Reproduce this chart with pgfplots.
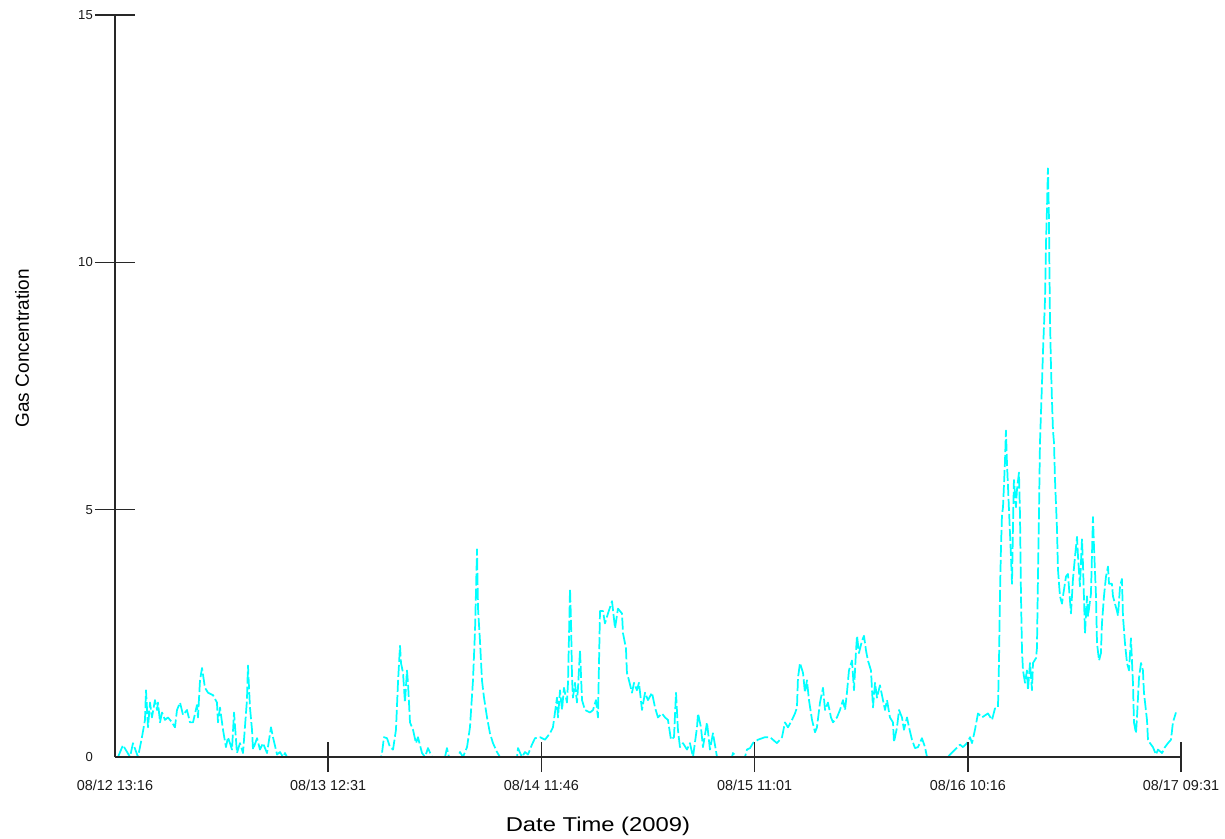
\documentclass[border=0pt]{standalone}
\usepackage{fontspec}
\setmainfont{Liberation Sans}
\usepackage{graphicx}
\usepackage{pgfplots}
\usepackage{pgfplotstable}
\pgfplotsset{compat=1.18}
\definecolor{aqua}{RGB}{0,255,255}
\definecolor{axisgray}{RGB}{40,40,40}
\pgfplotstableread{
h c
0.33 0
0.87 0.24
1.64 0
1.96 0.28
2.51 0
2.94 0.4
3.27 0.75
3.38 1.35
3.60 0.6
3.82 1.1
4.03 0.8
4.36 1.15
4.58 0.95
4.69 1.1
4.91 0.7
5.13 0.9
5.45 0.75
5.78 0.8
6.22 0.7
6.54 0.6
6.76 0.95
7.09 1.1
7.42 0.85
7.85 0.95
8.18 0.7
8.51 0.7
8.94 1.05
9.05 0.8
9.27 1.55
9.49 1.8
9.81 1.4
10.14 1.3
10.69 1.25
11.12 1.1
11.23 0.7
11.45 1.0
11.78 0.55
12.10 0.2
12.32 0.4
12.76 0.15
12.98 0.9
13.30 0.08
13.63 0.28
13.96 0.08
14.39 1.15
14.50 1.85
14.72 1.0
14.94 0.55
15.05 0.15
15.49 0.38
15.81 0.15
16.14 0.28
16.58 0.08
17.01 0.6
17.23 0.4
17.67 0.05
17.99 0.1
18.32 0
18.54 0.08
18.76 0
29.01 0
29.12 0.08
29.33 0.4
29.66 0.38
29.99 0.2
30.32 0.15
30.64 0.55
30.86 1.5
31.08 2.25
31.19 1.9
31.41 1.7
31.62 1.1
31.84 1.75
31.95 1.5
32.17 0.7
32.50 0.55
32.82 0.28
33.04 0.4
33.48 0.08
33.81 0
34.13 0.18
34.57 0
35.99 0
36.20 0.18
36.42 0
37.40 0
37.62 0.1
37.95 0
38.39 0.2
38.71 0.6
39.04 1.55
39.26 2.55
39.48 4.2
39.59 3.0
39.80 2.35
40.02 1.55
40.24 1.2
40.57 0.8
40.89 0.48
41.22 0.28
41.66 0.1
41.98 0
43.84 0
43.95 0.18
44.38 0
44.71 0.1
45.04 0.05
45.47 0.25
45.80 0.38
46.35 0.4
46.89 0.35
47.44 0.48
47.76 0.6
48.20 1.2
48.31 0.8
48.53 1.35
48.75 0.95
48.96 1.4
49.29 1.1
49.40 1.5
49.62 3.4
49.73 2.75
49.84 1.6
49.94 1.2
50.16 1.5
50.38 1.1
50.49 1.4
50.71 2.15
50.93 1.15
51.25 0.95
51.80 0.9
52.13 0.95
52.45 1.15
52.67 0.8
52.89 2.95
53.22 2.95
53.43 2.7
53.76 2.9
54.20 3.15
54.53 2.6
54.85 3.0
55.29 2.9
55.40 2.5
55.72 2.2
55.83 1.7
56.05 1.55
56.38 1.3
56.60 1.5
56.92 1.35
57.14 1.5
57.47 0.95
57.80 1.3
58.12 1.15
58.56 1.3
58.89 1.0
59.21 0.8
59.65 0.88
59.98 0.8
60.30 0.75
60.63 0.35
60.96 0.4
61.18 1.3
61.39 0.55
61.61 0.2
61.94 0.28
62.38 0.15
62.70 0.28
63.03 0
63.47 0.6
63.58 0.88
63.90 0.6
64.12 0.2
64.56 0.7
64.88 0.15
65.21 0.48
65.65 0
67.28 0
67.39 0.08
67.83 0
68.70 0
68.92 0.15
69.25 0.18
69.57 0.28
70.12 0.35
70.88 0.4
71.43 0.4
72.19 0.28
72.74 0.4
73.06 0.7
73.39 0.6
73.83 0.75
74.15 0.88
74.37 1.0
74.48 1.6
74.70 1.9
75.03 1.7
75.24 1.3
75.46 1.55
75.68 1.15
76.01 0.75
76.34 0.5
76.55 0.6
76.88 1.1
77.21 1.4
77.43 0.95
77.75 1.1
78.08 0.8
78.30 0.7
78.73 0.8
79.06 0.95
79.39 1.15
79.61 0.95
79.82 1.3
80.04 1.75
80.37 1.95
80.59 1.35
80.81 2.15
80.92 2.45
81.13 2.1
81.46 2.35
81.68 2.45
81.90 2.15
82.11 1.95
82.44 1.75
82.66 1.0
82.88 1.5
83.10 1.2
83.42 1.45
83.75 1.15
83.97 0.95
84.19 1.15
84.51 0.8
84.84 0.7
84.95 0.3
85.28 0.6
85.50 0.95
85.82 0.8
86.04 0.55
86.37 0.8
86.59 0.6
86.91 0.35
87.24 0.18
87.57 0.2
88.00 0.38
88.33 0.2
88.55 0
90.84 0
91.06 0.05
91.60 0.15
92.15 0.25
92.47 0.2
92.91 0.28
93.24 0.4
93.46 0.28
93.78 0.55
94.11 0.88
94.55 0.8
95.20 0.88
95.64 0.75
95.96 0.98
96.29 1.0
96.40 1.9
96.51 3.3
96.62 4.25
96.73 4.9
96.84 5.05
97.05 5.95
97.16 6.6
97.27 5.95
97.49 5.0
97.71 4.05
97.82 3.5
97.93 4.7
98.03 5.6
98.25 5.05
98.36 5.4
98.58 5.75
98.69 4.9
98.80 3.25
98.91 2.15
99.02 1.75
99.24 1.5
99.45 1.75
99.56 1.35
99.78 1.9
100.00 1.35
100.11 1.9
100.44 2.0
100.54 2.2
100.65 3.6
100.76 4.9
100.87 6.35
101.09 7.55
101.20 8.2
101.42 9.25
101.53 10.4
101.63 11.05
101.74 11.9
101.85 10.9
101.90 9.9
101.96 8.9
102.07 7.9
102.18 7.2
102.29 6.6
102.40 6.35
102.51 5.6
102.73 4.6
102.83 3.8
103.05 3.25
103.27 3.1
103.38 3.25
103.71 3.65
103.92 3.7
104.25 2.9
104.47 3.6
104.69 4.05
104.91 4.45
105.02 4.05
105.23 3.45
105.45 4.4
105.56 3.9
105.78 2.5
106.00 3.25
106.11 2.85
106.43 3.3
106.65 4.85
106.76 4.25
106.98 3.25
107.09 2.3
107.31 1.95
107.52 2.1
107.63 2.7
107.85 3.25
108.07 3.65
108.29 3.85
108.40 3.5
108.72 3.5
108.83 3.25
109.27 2.95
109.38 2.85
109.60 3.45
109.81 3.6
109.92 2.85
110.14 2.3
110.36 1.9
110.58 1.75
110.79 2.4
111.01 1.5
111.12 0.7
111.34 0.48
111.45 0.8
111.67 1.6
111.89 1.9
112.10 1.75
112.21 1.3
112.54 0.75
112.65 0.35
112.87 0.28
113.19 0.2
113.52 0.05
113.74 0.15
114.18 0.08
114.50 0.2
114.83 0.28
115.16 0.35
115.37 0.7
115.70 0.9
}\gasdata
\begin{document}
\begin{tikzpicture}
\path[use as bounding box] (-86.25pt,-61.5pt) rectangle (832.5pt,567.75pt);
\begin{axis}[
  at={(0pt,0pt)}, anchor=south west,
  scale only axis, width=799.5pt, height=556.5pt,
  xmin=0, xmax=116.25, ymin=0, ymax=15,
  axis x line=bottom, axis y line=left,
  axis line style={-, axisgray, line width=1.1pt},
  axis on top,
  tick align=center,
  xtick={23.25,46.5,69.75,93,116.25},
  xticklabels={08/13 12:31,08/14 11:46,08/15 11:01,08/16 10:16,08/17 09:31},
  extra x ticks={0}, extra x tick labels={08/12 13:16},
  extra x tick style={x tick style={/pgfplots/major tick length=0pt, draw=none}},
  ytick={5,10,15},
  yticklabels={5,10,15},
  extra y ticks={0}, extra y tick labels={0},
  extra y tick style={y tick style={/pgfplots/major tick length=0pt, draw=none}},
  x tick style={axisgray, line width=1.1pt, /pgfplots/major tick length=22.5pt},
  y tick style={axisgray, line width=1.1pt, /pgfplots/major tick length=30pt},
  xticklabel style={font=\fontsize{10.8pt}{12pt}\selectfont, text=black!90, anchor=north, yshift=-12pt},
  yticklabel style={font=\fontsize{9.8pt}{11pt}\selectfont, text=black!90, anchor=east, xshift=-11pt},
  xlabel={\scalebox{1.19}[1]{Date Time (2009)}},
  ylabel={Gas Concentration},
  xlabel style={font=\fontsize{15pt}{17pt}\selectfont, at={(rel axis cs:0.453,0)}, anchor=center, yshift=-51.75pt},
  ylabel style={font=\fontsize{14.25pt}{16pt}\selectfont, at={(rel axis cs:0,0.551)}, anchor=center, yshift=69.75pt},
]
\addplot[aqua, line width=1.3pt, dash pattern=on 9pt off 2.25pt, line join=round] table[x=h, y=c] {\gasdata};
\end{axis}
\end{tikzpicture}
\end{document}
